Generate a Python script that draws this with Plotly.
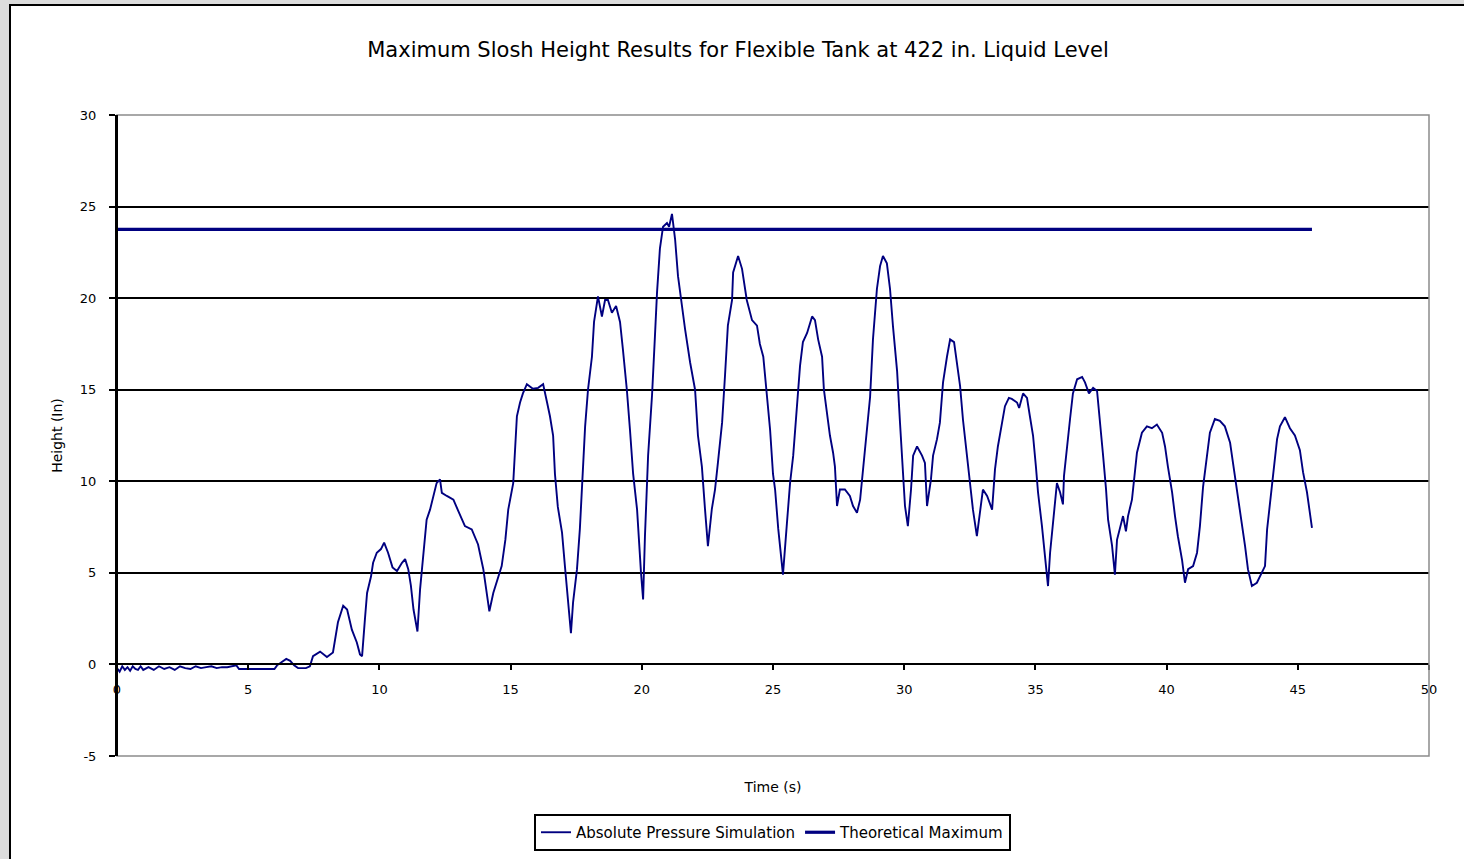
import plotly.graph_objects as go

# ---- data ----
time_s = [
    0.00, 0.10, 0.20, 0.30, 0.40, 0.50, 0.60, 0.70, 0.80, 0.90, 1.00, 1.20, 1.40, 1.60, 1.80,
    2.00, 2.20, 2.40, 2.60, 2.80, 3.00, 3.20, 3.40, 3.60, 3.80, 4.00, 4.20, 4.40, 4.55, 4.65,
    6.00, 6.10, 6.25, 6.45, 6.60, 6.75, 6.90, 7.20, 7.35, 7.47, 7.74, 8.00, 8.23, 8.42, 8.62,
    8.77, 8.95, 9.14, 9.26, 9.34, 9.45, 9.53, 9.68, 9.76, 9.90, 10.06, 10.18, 10.33, 10.50,
    10.67, 10.86, 10.98, 11.10, 11.20, 11.30, 11.45, 11.55, 11.67, 11.80, 11.93, 12.05, 12.18,
    12.31, 12.38, 12.57, 12.82, 13.00, 13.26, 13.52, 13.76, 13.96, 14.11, 14.19, 14.34, 14.53,
    14.66, 14.80, 14.91, 15.10, 15.17, 15.24, 15.36, 15.47, 15.62, 15.85, 16.05, 16.24, 16.39,
    16.50, 16.62, 16.69, 16.80, 16.96, 17.07, 17.19, 17.30, 17.38, 17.53, 17.64, 17.76, 17.84,
    17.95, 18.10, 18.18, 18.29, 18.33, 18.48, 18.60, 18.71, 18.86, 19.02, 19.17, 19.28, 19.43,
    19.55, 19.67, 19.82, 19.90, 19.97, 20.05, 20.12, 20.24, 20.39, 20.50, 20.58, 20.69, 20.81,
    20.96, 21.04, 21.15, 21.27, 21.38, 21.53, 21.65, 21.84, 22.03, 22.14, 22.29, 22.41, 22.52,
    22.67, 22.79, 22.90, 23.06, 23.17, 23.28, 23.44, 23.48, 23.67, 23.82, 24.00, 24.20, 24.39,
    24.50, 24.63, 24.77, 24.89, 25.00, 25.08, 25.20, 25.30, 25.38, 25.53, 25.65, 25.77, 25.91,
    26.03, 26.14, 26.30, 26.49, 26.60, 26.72, 26.87, 26.94, 27.06, 27.17, 27.29, 27.36, 27.44,
    27.55, 27.74, 27.93, 28.05, 28.20, 28.32, 28.43, 28.58, 28.70, 28.81, 28.96, 29.08, 29.19,
    29.34, 29.46, 29.57, 29.73, 29.84, 29.95, 30.03, 30.14, 30.26, 30.34, 30.49, 30.68, 30.79,
    30.87, 31.02, 31.10, 31.25, 31.36, 31.48, 31.63, 31.75, 31.90, 32.01, 32.13, 32.24, 32.39,
    32.51, 32.62, 32.77, 32.89, 33.00, 33.16, 33.35, 33.46, 33.57, 33.73, 33.84, 33.99, 34.10,
    34.30, 34.38, 34.53, 34.68, 34.79, 34.91, 35.02, 35.10, 35.25, 35.33, 35.44, 35.48, 35.56,
    35.67, 35.82, 35.94, 36.05, 36.09, 36.20, 36.32, 36.43, 36.59, 36.78, 36.89, 37.04, 37.20,
    37.35, 37.46, 37.57, 37.69, 37.77, 37.92, 38.03, 38.11, 38.26, 38.34, 38.45, 38.53, 38.68,
    38.80, 38.87, 39.06, 39.25, 39.44, 39.63, 39.83, 39.94, 40.05, 40.21, 40.32, 40.43, 40.59,
    40.70, 40.82, 41.01, 41.16, 41.27, 41.39, 41.54, 41.65, 41.84, 42.03, 42.22, 42.42, 42.53,
    42.68, 42.83, 42.99, 43.10, 43.25, 43.44, 43.64, 43.75, 43.83, 43.94, 44.05, 44.21, 44.32,
    44.51, 44.70, 44.89, 45.08, 45.20, 45.35, 45.46, 45.54,
]
height_in = [
    -0.20, -0.40, -0.10, -0.30, -0.15, -0.35, -0.10, -0.25, -0.30, -0.10, -0.30, -0.15, -0.30, -0.10, -0.25,
    -0.15, -0.30, -0.10, -0.20, -0.25, -0.10, -0.20, -0.15, -0.10, -0.20, -0.15, -0.15, -0.10, -0.05, -0.25,
    -0.25, -0.05, 0.10, 0.30, 0.20, -0.05, -0.20, -0.20, -0.10, 0.45, 0.70, 0.40, 0.65, 2.30, 3.20,
    3.00, 1.90, 1.20, 0.55, 0.45, 2.50, 3.90, 4.80, 5.55, 6.10, 6.30, 6.65, 6.10, 5.30,
    5.10, 5.55, 5.75, 5.20, 4.30, 3.00, 1.80, 4.10, 5.90, 7.90, 8.45, 9.20, 9.90,
    10.10, 9.37, 9.20, 9.00, 8.40, 7.55, 7.37, 6.55, 5.20, 3.55, 2.90, 3.90, 4.80,
    5.37, 6.80, 8.45, 9.90, 11.90, 13.55, 14.30, 14.80, 15.30, 15.05, 15.10, 15.30, 14.30,
    13.55, 12.50, 10.40, 8.60, 7.20, 5.37, 3.20, 1.70, 3.37, 5.20, 7.40, 10.80, 13.00,
    15.00, 16.80, 18.70, 19.75, 20.10, 19.00, 19.90, 19.90, 19.20, 19.57, 18.70, 17.20, 15.00,
    12.80, 10.40, 8.45, 6.30, 5.00, 3.55, 7.00, 11.40, 14.70, 17.90, 20.30, 22.70, 23.90,
    24.10, 23.90, 24.60, 23.20, 21.20, 19.55, 18.30, 16.50, 15.00, 12.50, 10.80, 8.45, 6.46,
    8.50, 9.55, 11.00, 13.20, 15.75, 18.50, 19.90, 21.40, 22.30, 21.60, 19.90, 18.80, 18.50,
    17.50, 16.80, 14.60, 12.80, 10.40, 9.55, 7.40, 5.90, 4.90, 7.70, 9.90, 11.40, 14.10,
    16.30, 17.60, 18.10, 19.00, 18.80, 17.75, 16.80, 15.00, 13.56, 12.50, 11.56, 10.80, 8.65,
    9.55, 9.55, 9.20, 8.65, 8.28, 9.00, 10.65, 13.20, 14.60, 17.75, 20.50, 21.75, 22.30,
    21.90, 20.50, 18.50, 16.00, 13.20, 10.80, 8.65, 7.55, 9.55, 11.40, 11.90, 11.40, 11.00,
    8.65, 10.10, 11.40, 12.30, 13.20, 15.40, 16.80, 17.75, 17.60, 16.50, 15.20, 13.36, 11.40,
    9.90, 8.45, 7.00, 8.45, 9.55, 9.20, 8.45, 10.65, 11.90, 13.20, 14.10, 14.55, 14.50,
    14.30, 14.00, 14.80, 14.55, 13.55, 12.50, 10.80, 9.40, 7.55, 6.28, 4.60, 4.28, 6.10,
    7.90, 9.90, 9.40, 8.74, 10.30, 11.90, 13.40, 14.80, 15.57, 15.70, 15.40, 14.80, 15.10,
    14.93, 13.40, 11.56, 9.60, 7.90, 6.50, 4.90, 6.80, 7.70, 8.10, 7.27, 8.10, 9.00,
    10.50, 11.56, 12.65, 13.00, 12.90, 13.10, 12.65, 11.90, 10.80, 9.40, 8.10, 7.00, 5.70,
    4.46, 5.20, 5.37, 6.10, 7.55, 9.70, 11.56, 12.65, 13.40, 13.30, 13.00, 12.10, 11.00,
    9.55, 7.90, 6.46, 5.20, 4.28, 4.46, 5.00, 5.37, 7.37, 8.83, 10.50, 12.30, 13.00,
    13.50, 12.90, 12.50, 11.70, 10.50, 9.40, 8.30, 7.46,
]
theory_time = [0.0, 45.54]
theory_height = [23.75, 23.75]

x_ticks = [0, 5, 10, 15, 20, 25, 30, 35, 40, 45, 50]
y_ticks = [-5, 0, 5, 10, 15, 20, 25, 30]

title_text = "Maximum Slosh Height Results for Flexible Tank at 422 in. Liquid Level"
FONT = "DejaVu Sans"

fig = go.Figure()
fig.add_trace(go.Scatter(
    x=time_s, y=height_in, mode="lines", name="Absolute Pressure Simulation",
    line=dict(color="#000080", width=1.9),
))
fig.add_trace(go.Scatter(
    x=theory_time, y=theory_height, mode="lines", name="Theoretical Maximum",
    line=dict(color="#000080", width=3.2),
))

W, H = 1464, 859
L, R, T, B = 117, 35, 115, 103
pw, ph = W - L - R, H - T - B


def px_x(p):
    return (p - L) / pw


def px_y(p):
    return (H - B - p) / ph


shapes = [
    # white page with black border on a grey background
    dict(type="rect", xref="paper", yref="paper", layer="below",
         x0=px_x(10), x1=px_x(W + 20), y0=px_y(H + 20), y1=px_y(5),
         fillcolor="white", line=dict(color="black", width=2)),
    # plot-area border (grey)
    dict(type="rect", xref="paper", yref="paper", layer="above",
         x0=0, x1=1, y0=0, y1=1, line=dict(color="#8c8c8c", width=1.5)),
    # re-draw left axis line on top of the border
    dict(type="line", xref="paper", yref="paper", layer="above",
         x0=0, x1=0, y0=0, y1=1, line=dict(color="black", width=2)),
]

fig.update_layout(
    width=W, height=H,
    margin=dict(l=L, r=R, t=T, b=B, pad=0, autoexpand=False),
    paper_bgcolor="#dcdcdc",
    plot_bgcolor="white",
    font=dict(family=FONT, color="black", size=12),
    title=dict(text=title_text, x=738 / W, xanchor="center", y=1 - 50 / H, yanchor="middle",
               font=dict(family=FONT, size=21, color="black")),
    shapes=shapes,
    showlegend=True,
    legend=dict(orientation="h", xref="container", x=772.5 / W, xanchor="center",
                yref="container", y=1 - 814 / H, yanchor="top",
                bgcolor="white", bordercolor="black", borderwidth=2,
                font=dict(family=FONT, size=15, color="black"),
                itemwidth=30, tracegroupgap=0),
    xaxis=dict(
        range=[0, 50], tickmode="array", tickvals=x_ticks, ticktext=[str(v) for v in x_ticks],
        anchor="free", position=5 / 35,
        showline=True, linecolor="black", linewidth=2,
        ticks="outside", ticklen=5, tickwidth=2, tickcolor="black",
        ticklabelstandoff=8,
        showgrid=False, zeroline=False, automargin=False,
        tickfont=dict(family=FONT, size=13, color="black"),
        title=dict(text="Time (s)", standoff=85, font=dict(family=FONT, size=14, color="black")),
    ),
    yaxis=dict(
        range=[-5, 30], tickmode="array", tickvals=y_ticks, ticktext=[str(v) for v in y_ticks],
        showline=True, linecolor="black", linewidth=2,
        ticks="outside", ticklen=6, tickwidth=2, tickcolor="black",
        ticklabelstandoff=10,
        showgrid=True, gridcolor="black", gridwidth=1.5,
        zeroline=False, automargin=False,
        tickfont=dict(family=FONT, size=13, color="black"),
        title=dict(text="Height (In)", standoff=14, font=dict(family=FONT, size=14, color="black")),
    ),
)

fig.write_html("out.html")
